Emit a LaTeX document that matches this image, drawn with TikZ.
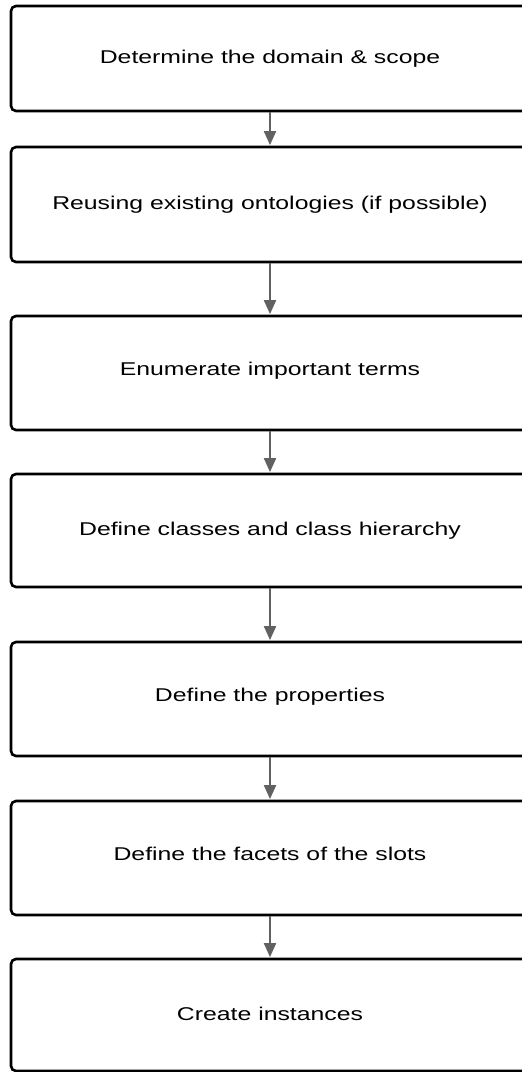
\documentclass[tikz,border=0pt]{standalone}
\usepackage{fontspec}
\setmainfont{Liberation Sans}
\usetikzlibrary{arrows.meta}
\begin{document}
\begin{tikzpicture}[x=1pt,y=-1pt,
  stepbox/.style={draw=black, line width=2.6pt, rounded corners=5pt, fill=white,
    minimum width=518pt, inner sep=0pt},
  lbl/.style={anchor=base, inner sep=0pt, font=\fontsize{18.5}{22}\selectfont},
  flow/.style={draw=black!62, line width=2pt, -{Triangle[width=12pt,length=14pt]}, shorten >=0.6pt}]
\useasboundingbox (0,0) rectangle (522,1072);
\clip (0,0) rectangle (522,1072);
\fill[white] (0,0) rectangle (522,1072);
% step boxes (the frame runs past the right margin)
\node[stepbox, minimum height=105pt] (b1) at (270,58.5) {};
\node[stepbox, minimum height=115pt] (b2) at (270,204.5) {};
\node[stepbox, minimum height=114pt] (b3) at (270,373) {};
\node[stepbox, minimum height=113pt] (b4) at (270,530.5) {};
\node[stepbox, minimum height=114pt] (b5) at (270,699) {};
\node[stepbox, minimum height=114pt] (b6) at (270,858) {};
\node[stepbox, minimum height=112pt] (b7) at (270,1015) {};
% step labels
\node[lbl] (t1) at (270,63) {\scalebox{1.34}[1]{Determine the domain \& scope}};
\node[lbl] (t2) at (270,209) {\scalebox{1.34}[1]{Reusing existing ontologies (if possible)}};
\node[lbl] (t3) at (270,375) {\scalebox{1.34}[1]{Enumerate important terms}};
\node[lbl] (t4) at (270,535) {\scalebox{1.34}[1]{Define classes and class hierarchy}};
\node[lbl] (t5) at (270,701) {\scalebox{1.34}[1]{Define the properties}};
\node[lbl] (t6) at (270,860) {\scalebox{1.34}[1]{Define the facets of the slots}};
\node[lbl] (t7) at (270,1020) {\scalebox{1.34}[1]{Create instances}};
% connectors
\draw[flow] (b1.south) -- (b2.north);
\draw[flow] (b2.south) -- (b3.north);
\draw[flow] (b3.south) -- (b4.north);
\draw[flow] (b4.south) -- (b5.north);
\draw[flow] (b5.south) -- (b6.north);
\draw[flow] (b6.south) -- (b7.north);
\end{tikzpicture}
\end{document}
